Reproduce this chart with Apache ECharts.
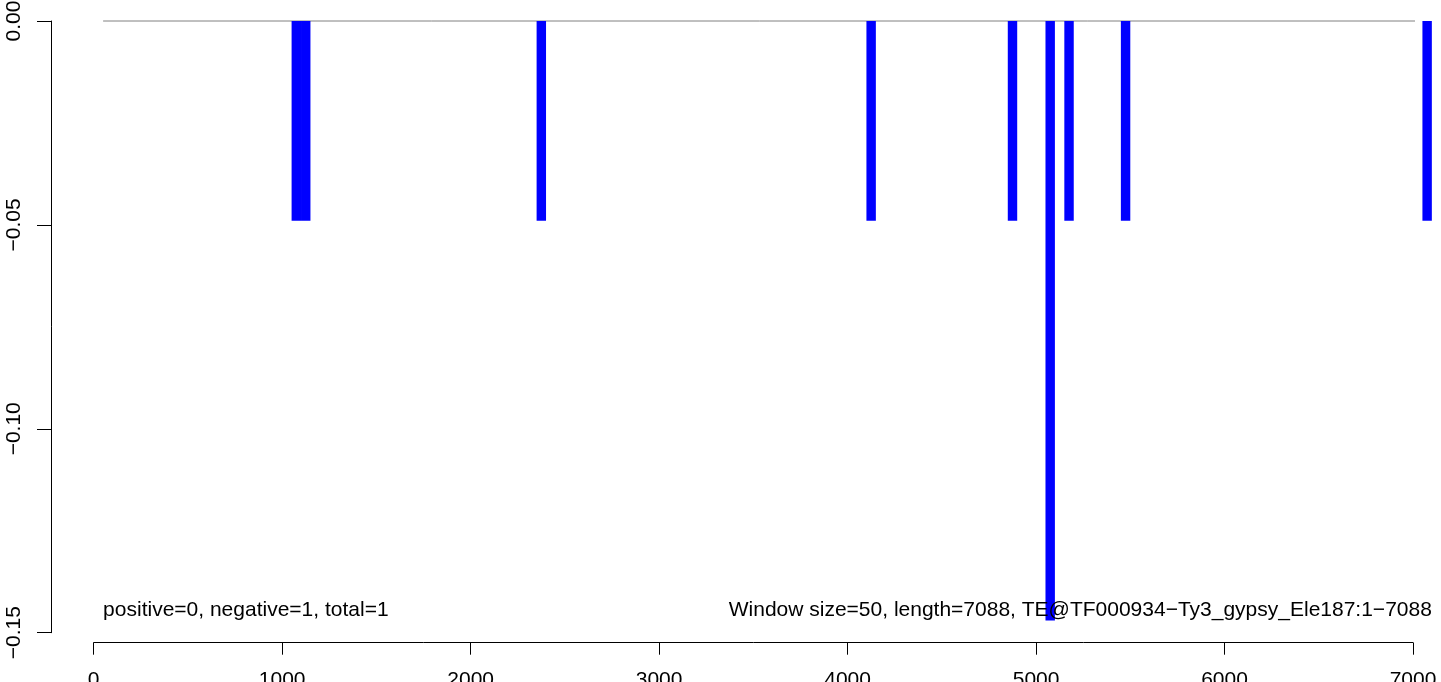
<!DOCTYPE html>
<html>
<head>
<meta charset="utf-8">
<script src="https://cdn.jsdelivr.net/npm/echarts@6/dist/echarts.min.js"></script>
<style>html,body{margin:0;padding:0;background:#fff;}#c{width:1441px;height:682px;}</style>
</head>
<body>
<div id="c"></div>
<script>
const windowSize = 50;
const windowStarts = [1050, 1100, 2350, 4100, 4850, 5050, 5150, 5450, 7050];
const windowValues = [-0.049, -0.049, -0.049, -0.049, -0.049, -0.147, -0.049, -0.049, -0.049];
const baselineRange = [50, 7100];
const xTicks = [0, 1000, 2000, 3000, 4000, 5000, 6000, 7000];
const yTicks = [0, -0.05, -0.10, -0.15];
const leftNote = 'positive=0, negative=1, total=1';
const rightNote = 'Window size=50, length=7088, TE@TF000934\u2212Ty3_gypsy_Ele187:1\u22127088';

const FONT = 'Liberation Sans, Arial, Helvetica, sans-serif';
const FS = 21;
const chart = echarts.init(document.getElementById('c'), null, {renderer: 'canvas'});
const barData = windowStarts.map((s, i) => [s, s + windowSize, windowValues[i]]);

chart.setOption({
  animation: false,
  backgroundColor: '#ffffff',
  grid: {left: 93.7, right: 28, top: 21, bottom: 49.3, containLabel: false, outerBoundsMode: 'none'},
  xAxis: {
    type: 'value', min: xTicks[0], max: xTicks[xTicks.length - 1], interval: 1000,
    offset: 10,
    axisLine: {show: true, onZero: false, lineStyle: {color: '#000', width: 1}},
    axisTick: {show: true, length: 12, lineStyle: {color: '#000', width: 1}},
    axisLabel: {show: true, margin: 27, color: '#000', fontSize: FS, fontFamily: FONT,
      showMinLabel: true, showMaxLabel: true, hideOverlap: false,
      formatter: v => String(v)},
    splitLine: {show: false}
  },
  yAxis: {
    type: 'value', min: yTicks[yTicks.length - 1], max: yTicks[0], interval: 0.05,
    offset: 42.7,
    axisLine: {show: true, onZero: false, lineStyle: {color: '#000', width: 1}},
    axisTick: {show: true, length: 14, lineStyle: {color: '#000', width: 1}},
    axisLabel: {show: true, rotate: 90, margin: 26, color: '#000', fontSize: FS, fontFamily: FONT,
      showMinLabel: true, showMaxLabel: true, hideOverlap: false,
      formatter: v => {
        const s = Math.abs(v).toFixed(2);
        return v < -1e-9 ? '\u2212' + s : s;
      }},
    splitLine: {show: false}
  },
  series: [
    {
      type: 'line',
      data: [[baselineRange[0], 0], [baselineRange[1], 0]],
      clip: false,
      symbol: 'none',
      lineStyle: {color: '#808080', width: 1},
      z: 1
    },
    {
      type: 'custom',
      clip: false,
      data: barData,
      renderItem: function (params, api) {
        const p0 = api.coord([api.value(0), 0]);
        const p1 = api.coord([api.value(1), api.value(2)]);
        return {
          type: 'rect',
          shape: {x: p0[0], y: p0[1], width: p1[0] - p0[0], height: p1[1] - p0[1]},
          style: {fill: '#0000ff'}
        };
      },
      z: 2
    }
  ]
});

const pL = chart.convertToPixel({gridIndex: 0}, [baselineRange[0], 0]);
const pR = chart.convertToPixel({gridIndex: 0}, [baselineRange[1], 0]);
chart.setOption({
  graphic: [
    {type: 'text', x: pL[0], y: 610, z: 100,
      style: {text: leftNote, fill: '#000', font: FS + 'px ' + FONT, align: 'left', verticalAlign: 'middle'}},
    {type: 'text', x: pR[0], y: 610, z: 100,
      style: {text: rightNote, fill: '#000', font: FS + 'px ' + FONT, align: 'right', verticalAlign: 'middle'}}
  ]
});
</script>
</body>
</html>
